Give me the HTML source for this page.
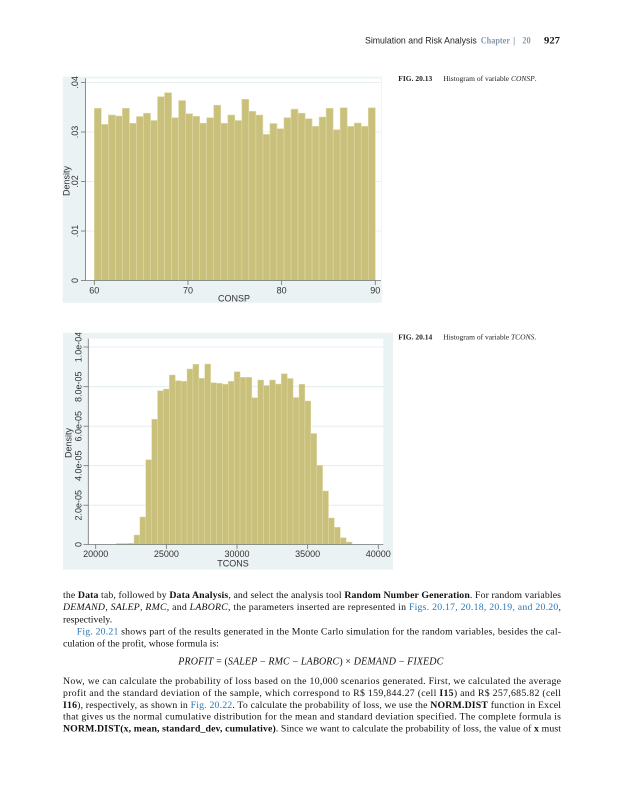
<!DOCTYPE html>
<html><head><meta charset="utf-8">
<style>
html,body{margin:0;padding:0;background:#fff;}
svg{display:block;}
</style></head>
<body>
<svg width="625" height="800" viewBox="0 0 625 800" xmlns="http://www.w3.org/2000/svg">
<rect x="0" y="0" width="625" height="800" fill="#ffffff"/>

<!-- Header -->
<text x="365" y="43.5" font-family="Liberation Sans, sans-serif" font-size="9" fill="#222" textLength="111.7" lengthAdjust="spacingAndGlyphs">Simulation and Risk Analysis</text>
<text x="480.7" y="43.5" font-family="Liberation Serif, serif" font-size="9.5" font-weight="bold" fill="#8499ad" textLength="29.3" lengthAdjust="spacingAndGlyphs">Chapter</text>
<text x="513" y="43.5" font-family="Liberation Sans, sans-serif" font-size="9" fill="#8499ad">|</text>
<text x="522.3" y="43.5" font-family="Liberation Serif, serif" font-size="9.5" font-weight="bold" fill="#8499ad" textLength="8.4" lengthAdjust="spacingAndGlyphs">20</text>
<text x="544" y="43.5" font-family="Liberation Serif, serif" font-size="9.5" font-weight="bold" fill="#111" textLength="16" lengthAdjust="spacingAndGlyphs">927</text>

<!-- Captions -->
<text x="398.3" y="80.8" font-family="Liberation Serif, serif" font-size="7.5" fill="#222"><tspan font-weight="bold">FIG. 20.13</tspan><tspan x="443.3">Histogram of variable </tspan><tspan font-style="italic">CONSP</tspan><tspan>.</tspan></text>
<text x="398.3" y="339.5" font-family="Liberation Serif, serif" font-size="7.5" fill="#222"><tspan font-weight="bold">FIG. 20.14</tspan><tspan x="443.3">Histogram of variable </tspan><tspan font-style="italic">TCONS</tspan><tspan>.</tspan></text>

<!-- ================= CHART 1 ================= -->
<g font-family="Liberation Sans, sans-serif" font-size="9" fill="#333">
<rect x="62.7" y="76.7" width="319" height="226" fill="#eaf2f3"/>
<rect x="85.5" y="78.3" width="295.5" height="202.2" fill="#ffffff"/>
<g stroke="#e1eaea" stroke-width="0.8">
<line x1="85.5" y1="82.4" x2="381" y2="82.4"/>
<line x1="85.5" y1="132" x2="381" y2="132"/>
<line x1="85.5" y1="181.5" x2="381" y2="181.5"/>
<line x1="85.5" y1="231" x2="381" y2="231"/>
</g>
<g fill="#c9c07b" stroke="#e0daa8" stroke-width="0.6">
<rect x="94.30" y="108.3" width="7.025" height="172.0"/>
<rect x="101.33" y="124.3" width="7.025" height="156.0"/>
<rect x="108.35" y="115.0" width="7.025" height="165.3"/>
<rect x="115.38" y="116.0" width="7.025" height="164.3"/>
<rect x="122.40" y="108.3" width="7.025" height="172.0"/>
<rect x="129.43" y="123.3" width="7.025" height="157.0"/>
<rect x="136.45" y="116.5" width="7.025" height="163.8"/>
<rect x="143.48" y="113.2" width="7.025" height="167.1"/>
<rect x="150.50" y="120.5" width="7.025" height="159.8"/>
<rect x="157.53" y="96.7" width="7.025" height="183.6"/>
<rect x="164.55" y="92.7" width="7.025" height="187.6"/>
<rect x="171.58" y="117.7" width="7.025" height="162.6"/>
<rect x="178.60" y="100.5" width="7.025" height="179.8"/>
<rect x="185.63" y="113.7" width="7.025" height="166.6"/>
<rect x="192.65" y="116.3" width="7.025" height="164.0"/>
<rect x="199.68" y="123.2" width="7.025" height="157.1"/>
<rect x="206.70" y="117.7" width="7.025" height="162.6"/>
<rect x="213.73" y="105.2" width="7.025" height="175.1"/>
<rect x="220.75" y="123.3" width="7.025" height="157.0"/>
<rect x="227.78" y="115.0" width="7.025" height="165.3"/>
<rect x="234.80" y="120.5" width="7.025" height="159.8"/>
<rect x="241.83" y="99.3" width="7.025" height="181.0"/>
<rect x="248.85" y="111.3" width="7.025" height="169.0"/>
<rect x="255.88" y="115.0" width="7.025" height="165.3"/>
<rect x="262.90" y="134.3" width="7.025" height="146.0"/>
<rect x="269.93" y="123.5" width="7.025" height="156.8"/>
<rect x="276.95" y="128.7" width="7.025" height="151.6"/>
<rect x="283.98" y="117.7" width="7.025" height="162.6"/>
<rect x="291.00" y="109.1" width="7.025" height="171.2"/>
<rect x="298.03" y="113.2" width="7.025" height="167.1"/>
<rect x="305.05" y="118.7" width="7.025" height="161.6"/>
<rect x="312.08" y="126.3" width="7.025" height="154.0"/>
<rect x="319.10" y="117.0" width="7.025" height="163.3"/>
<rect x="326.13" y="108.3" width="7.025" height="172.0"/>
<rect x="333.15" y="129.7" width="7.025" height="150.6"/>
<rect x="340.18" y="107.8" width="7.025" height="172.5"/>
<rect x="347.20" y="126.3" width="7.025" height="154.0"/>
<rect x="354.23" y="123.0" width="7.025" height="157.3"/>
<rect x="361.25" y="126.3" width="7.025" height="154.0"/>
<rect x="368.28" y="107.8" width="7.025" height="172.5"/>
</g>
<g stroke="#6e7272" stroke-width="0.8">
<line x1="85.5" y1="78.3" x2="85.5" y2="280.5"/>
<line x1="85.5" y1="280.5" x2="381" y2="280.5"/>
<line x1="81" y1="82.4" x2="85.5" y2="82.4"/>
<line x1="81" y1="132" x2="85.5" y2="132"/>
<line x1="81" y1="181.5" x2="85.5" y2="181.5"/>
<line x1="81" y1="231" x2="85.5" y2="231"/>
<line x1="81" y1="280.5" x2="85.5" y2="280.5"/>
<line x1="94.3" y1="280.5" x2="94.3" y2="285"/>
<line x1="187.97" y1="280.5" x2="187.97" y2="285"/>
<line x1="281.63" y1="280.5" x2="281.63" y2="285"/>
<line x1="375.3" y1="280.5" x2="375.3" y2="285"/>
</g>
<g text-anchor="middle">
<text transform="translate(78,82.4) rotate(-90)">.04</text>
<text transform="translate(78,132) rotate(-90)">.03</text>
<text transform="translate(78,181.5) rotate(-90)">.02</text>
<text transform="translate(78,231) rotate(-90)">.01</text>
<text transform="translate(78,280.5) rotate(-90)">0</text>
<text transform="translate(69.5,181) rotate(-90)">Density</text>
<text x="94.3" y="293.5">60</text>
<text x="187.97" y="293.5">70</text>
<text x="281.63" y="293.5">80</text>
<text x="375.3" y="293.5">90</text>
<text x="234" y="301.5">CONSP</text>
</g>
</g>

<!-- ================= CHART 2 ================= -->
<defs><clipPath id="c2"><rect x="63" y="332.7" width="330" height="237"/></clipPath></defs>
<g font-family="Liberation Sans, sans-serif" font-size="9" fill="#333" clip-path="url(#c2)">
<rect x="63" y="332.7" width="330" height="237" fill="#eaf2f3"/>
<rect x="88.3" y="338.7" width="295" height="205.8" fill="#ffffff"/>
<g stroke="#e1eaea" stroke-width="0.8">
<line x1="88.3" y1="347" x2="383.3" y2="347"/>
<line x1="88.3" y1="386.7" x2="383.3" y2="386.7"/>
<line x1="88.3" y1="426.2" x2="383.3" y2="426.2"/>
<line x1="88.3" y1="465.7" x2="383.3" y2="465.7"/>
<line x1="88.3" y1="505.2" x2="383.3" y2="505.2"/>
</g>
<g fill="#c9c07b" stroke="#e0daa8" stroke-width="0.5">
<rect x="116.32" y="543.5" width="5.893" height="0.8"/>
<rect x="122.21" y="543.5" width="5.893" height="0.8"/>
<rect x="128.11" y="543.3" width="5.893" height="1.0"/>
<rect x="134.00" y="535.0" width="5.893" height="9.3"/>
<rect x="139.89" y="517.0" width="5.893" height="27.3"/>
<rect x="145.79" y="459.7" width="5.893" height="84.6"/>
<rect x="151.68" y="419.3" width="5.893" height="125.0"/>
<rect x="157.57" y="390.7" width="5.893" height="153.6"/>
<rect x="163.47" y="389.0" width="5.893" height="155.3"/>
<rect x="169.36" y="375.0" width="5.893" height="169.3"/>
<rect x="175.25" y="380.7" width="5.893" height="163.6"/>
<rect x="181.14" y="381.3" width="5.893" height="163.0"/>
<rect x="187.04" y="369.0" width="5.893" height="175.3"/>
<rect x="192.93" y="364.3" width="5.893" height="180.0"/>
<rect x="198.82" y="378.3" width="5.893" height="166.0"/>
<rect x="204.72" y="364.0" width="5.893" height="180.3"/>
<rect x="210.61" y="382.7" width="5.893" height="161.6"/>
<rect x="216.50" y="383.3" width="5.893" height="161.0"/>
<rect x="222.40" y="384.3" width="5.893" height="160.0"/>
<rect x="228.29" y="381.3" width="5.893" height="163.0"/>
<rect x="234.18" y="371.7" width="5.893" height="172.6"/>
<rect x="240.07" y="377.3" width="5.893" height="167.0"/>
<rect x="245.97" y="377.3" width="5.893" height="167.0"/>
<rect x="251.86" y="397.7" width="5.893" height="146.6"/>
<rect x="257.75" y="380.0" width="5.893" height="164.3"/>
<rect x="263.65" y="385.5" width="5.893" height="158.8"/>
<rect x="269.54" y="380.0" width="5.893" height="164.3"/>
<rect x="275.43" y="384.0" width="5.893" height="160.3"/>
<rect x="281.33" y="373.7" width="5.893" height="170.6"/>
<rect x="287.22" y="378.5" width="5.893" height="165.8"/>
<rect x="293.11" y="397.5" width="5.893" height="146.8"/>
<rect x="299.00" y="384.3" width="5.893" height="160.0"/>
<rect x="304.90" y="401.0" width="5.893" height="143.3"/>
<rect x="310.79" y="433.5" width="5.893" height="110.8"/>
<rect x="316.68" y="465.3" width="5.893" height="79.0"/>
<rect x="322.58" y="491.0" width="5.893" height="53.3"/>
<rect x="328.47" y="518.0" width="5.893" height="26.3"/>
<rect x="334.36" y="527.3" width="5.893" height="17.0"/>
<rect x="340.26" y="537.7" width="5.893" height="6.6"/>
<rect x="346.15" y="542.0" width="5.893" height="2.3"/>
</g>
<g stroke="#6e7272" stroke-width="0.8">
<line x1="88.3" y1="338.7" x2="88.3" y2="544.5"/>
<line x1="88.3" y1="544.5" x2="383.3" y2="544.5"/>
<line x1="83.5" y1="347" x2="88.3" y2="347"/>
<line x1="83.5" y1="386.7" x2="88.3" y2="386.7"/>
<line x1="83.5" y1="426.2" x2="88.3" y2="426.2"/>
<line x1="83.5" y1="465.7" x2="88.3" y2="465.7"/>
<line x1="83.5" y1="505.2" x2="88.3" y2="505.2"/>
<line x1="83.5" y1="544.5" x2="88.3" y2="544.5"/>
<line x1="95.7" y1="544.5" x2="95.7" y2="549"/>
<line x1="166.35" y1="544.5" x2="166.35" y2="549"/>
<line x1="237" y1="544.5" x2="237" y2="549"/>
<line x1="307.65" y1="544.5" x2="307.65" y2="549"/>
<line x1="378.3" y1="544.5" x2="378.3" y2="549"/>
</g>
<g text-anchor="middle">
<text transform="translate(81.5,347) rotate(-90)">1.0e-04</text>
<text transform="translate(81.5,386.7) rotate(-90)">8.0e-05</text>
<text transform="translate(81.5,426.2) rotate(-90)">6.0e-05</text>
<text transform="translate(81.5,465.7) rotate(-90)">4.0e-05</text>
<text transform="translate(81.5,505.2) rotate(-90)">2.0e-05</text>
<text transform="translate(81.5,544.5) rotate(-90)">0</text>
<text transform="translate(71.5,443) rotate(-90)">Density</text>
<text x="95.7" y="556.8">20000</text>
<text x="166.35" y="556.8">25000</text>
<text x="237" y="556.8">30000</text>
<text x="307.65" y="556.8">35000</text>
<text x="378.3" y="556.8">40000</text>
<text x="233" y="566.3">TCONS</text>
</g>
</g>

<!-- ================= BODY TEXT ================= -->
<g font-family="Liberation Serif, serif" font-size="9.8" fill="#111">
<text x="63" y="598" textLength="498" lengthAdjust="spacing">the <tspan font-weight="bold">Data</tspan> tab, followed by <tspan font-weight="bold">Data Analysis</tspan>, and select the analysis tool <tspan font-weight="bold">Random Number Generation</tspan>. For random variables</text>
<text x="63" y="610" textLength="498" lengthAdjust="spacing"><tspan font-style="italic">DEMAND</tspan>, <tspan font-style="italic">SALEP</tspan>, <tspan font-style="italic">RMC</tspan>, and <tspan font-style="italic">LABORC</tspan>, the parameters inserted are represented in <tspan fill="#2b76b6">Figs. 20.17, 20.18, 20.19, and 20.20</tspan>,</text>
<text x="63" y="622.3">respectively.</text>
<text x="76.7" y="634.6" textLength="484.3" lengthAdjust="spacing"><tspan fill="#2b76b6">Fig. 20.21</tspan> shows part of the results generated in the Monte Carlo simulation for the random variables, besides the cal-</text>
<text x="63" y="646.6">culation of the profit, whose formula is:</text>
<text x="178.3" y="664.6" font-size="10" textLength="265" lengthAdjust="spacing"><tspan font-style="italic">PROFIT</tspan> = (<tspan font-style="italic">SALEP</tspan> − <tspan font-style="italic">RMC</tspan> − <tspan font-style="italic">LABORC</tspan>) × <tspan font-style="italic">DEMAND</tspan> − <tspan font-style="italic">FIXEDC</tspan></text>
<text x="63" y="684" textLength="498" lengthAdjust="spacing">Now, we can calculate the probability of loss based on the 10,000 scenarios generated. First, we calculated the average</text>
<text x="63" y="695.8" textLength="498" lengthAdjust="spacing">profit and the standard deviation of the sample, which correspond to R$ 159,844.27 (cell <tspan font-weight="bold">I15</tspan>) and R$ 257,685.82 (cell</text>
<text x="63" y="707.8" textLength="498" lengthAdjust="spacing"><tspan font-weight="bold">I16</tspan>), respectively, as shown in <tspan fill="#2b76b6">Fig. 20.22</tspan>. To calculate the probability of loss, we use the <tspan font-weight="bold">NORM.DIST</tspan> function in Excel</text>
<text x="63" y="719.6" textLength="498" lengthAdjust="spacing">that gives us the normal cumulative distribution for the mean and standard deviation specified. The complete formula is</text>
<text x="63" y="731.4" textLength="498" lengthAdjust="spacing"><tspan font-weight="bold">NORM.DIST(x, mean, standard_dev, cumulative)</tspan>. Since we want to calculate the probability of loss, the value of <tspan font-weight="bold">x</tspan> must</text>
</g>
</svg>
</body></html>
